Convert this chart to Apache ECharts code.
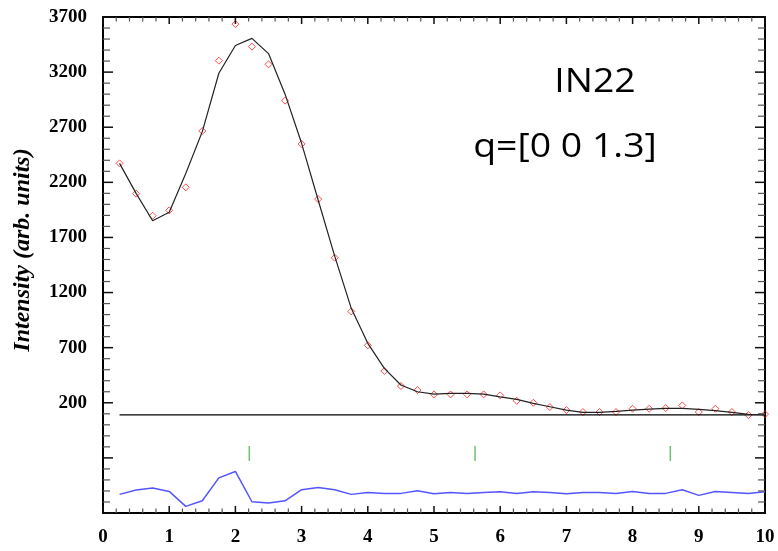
<!DOCTYPE html>
<html>
<head>
<meta charset="utf-8">
<script src="https://cdn.jsdelivr.net/npm/echarts@6/dist/echarts.min.js"></script>
<style>
html,body{margin:0;padding:0;background:#fff;}
#chart{width:778px;height:551px;}
</style>
</head>
<body>
<div id="chart"></div>
<script>
// ---- data ----
var xs = [0.25,0.5,0.75,1.0,1.25,1.5,1.75,2.0,2.25,2.5,2.75,3.0,3.25,3.5,3.75,4.0,4.25,4.5,4.75,5.0,
          5.25,5.5,5.75,6.0,6.25,6.5,6.75,7.0,7.25,7.5,7.75,8.0,8.25,8.5,8.75,9.0,9.25,9.5,9.75,10.0];
var observed = [2372,2097,1897,1946,2155,2666,3304,3636,3431,3271,2941,2548,2048,1516,1029,721,488,352,315,276,
                276,276,276,267,218,200,161,134,116,116,116,146,146,152,176,116,146,116,88,97];
var calculated = [2372,2100,1852,1928,2280,2660,3190,3442,3506,3368,3000,2554,2040,1531,1057,739,512,361,300,279,
                  285,285,279,254,231,194,164,134,113,113,122,134,143,149,149,140,128,113,95,92];
var difference = [-631,-592,-574,-604,-740,-689,-481,-423,-698,-710,-689,-589,-568,-589,-631,-613,-622,-622,-598,-626,
                  -613,-622,-613,-608,-622,-608,-613,-626,-613,-613,-622,-604,-622,-622,-589,-640,-604,-613,-622,-608];
var backgroundX = [0.25, 10];
var backgroundY = [90, 90];
var peakX = [2.21, 5.62, 8.57];
var peakY = [-260, -260, -260];
var xTicks = [0,1,2,3,4,5,6,7,8,9,10];
var yTickLabels = [200,700,1200,1700,2200,2700,3200,3700];
var yTitle = 'Intensity (arb. units)';
var label1 = 'IN22';
var label2 = 'q=[0 0 1.3]';

var X_MIN = 0, X_MAX = 10, X_STEP = 1, X_MINOR = 5;
var Y_MIN = -800, Y_MAX = 3700, Y_STEP = 500, Y_MINOR = 5;

function zip(a, b){ return a.map(function(v,i){ return [v, b[i]]; }); }

// axis tick marks (inside, on all four sides), derived from the axis ranges
var tickItems = [];
(function(){
  var i, j;
  for (i = X_MIN; i <= X_MAX + 1e-9; i += X_STEP) {
    tickItems.push([0, i, 1]);
    if (i < X_MAX) for (j = 1; j < X_MINOR; j++) tickItems.push([0, i + j * X_STEP / X_MINOR, 0]);
  }
  for (i = Y_MIN; i <= Y_MAX + 1e-9; i += Y_STEP) {
    tickItems.push([1, i, 1]);
    if (i < Y_MAX) for (j = 1; j < Y_MINOR; j++) tickItems.push([1, i + j * Y_STEP / Y_MINOR, 0]);
  }
})();

function renderTick(params, api){
  var kind = api.value(0), v = api.value(1), major = api.value(2) === 1;
  var cs = params.coordSys;
  var style = {stroke: major ? '#111' : '#555', lineWidth: major ? 1.5 : 1.2};
  var p, len;
  if (kind === 0) {
    p = api.coord([v, Y_MIN]);
    len = major ? 7 : 4.5;
    return {type:'group', children:[
      {type:'line', shape:{x1:p[0], y1:cs.y + cs.height, x2:p[0], y2:cs.y + cs.height - len}, style:style},
      {type:'line', shape:{x1:p[0], y1:cs.y, x2:p[0], y2:cs.y + len}, style:style}
    ]};
  }
  p = api.coord([X_MIN, v]);
  len = major ? 10 : 7;
  return {type:'group', children:[
    {type:'line', shape:{x1:cs.x, y1:p[1], x2:cs.x + len, y2:p[1]}, style:style},
    {type:'line', shape:{x1:cs.x + cs.width, y1:p[1], x2:cs.x + cs.width - len, y2:p[1]}, style:style}
  ]};
}

var chart = echarts.init(document.getElementById('chart'), null, {renderer:'canvas'});
var serif = '"Liberation Serif", "DejaVu Serif", serif';

function xAxisCfg(pos, showLabel){
  return {
    type:'value', position:pos, min:X_MIN, max:X_MAX, interval:X_STEP,
    axisLine:{show:true, onZero:false, lineStyle:{color:'#000', width:2}},
    axisTick:{show:false}, minorTick:{show:false},
    splitLine:{show:false},
    axisLabel:{show:showLabel, margin:15, color:'#000', fontFamily:serif, fontWeight:'bold', fontSize:19,
      formatter:function(v){ return xTicks.indexOf(v) >= 0 ? String(v) : ''; }}
  };
}
function yAxisCfg(pos, showLabel){
  return {
    type:'value', position:pos, min:Y_MIN, max:Y_MAX, interval:Y_STEP,
    axisLine:{show:true, onZero:false, lineStyle:{color:'#000', width:2}},
    axisTick:{show:false}, minorTick:{show:false},
    splitLine:{show:false},
    axisLabel:{show:showLabel, margin:16, color:'#000', fontFamily:serif, fontWeight:'bold', fontSize:19,
      formatter:function(v){ return yTickLabels.indexOf(v) >= 0 ? String(v) : ''; }}
  };
}

var option = {
  animation:false,
  grid:{left:103, right:13, top:17, bottom:38},
  xAxis:[xAxisCfg('bottom', true), xAxisCfg('top', false)],
  yAxis:[yAxisCfg('left', true), yAxisCfg('right', false)],
  series:[
    {type:'custom', data:tickItems, renderItem:renderTick, silent:true, z:10},
    {type:'line', data:zip(backgroundX, backgroundY), showSymbol:false, symbol:'none',
     lineStyle:{color:'#000', width:1.2}},
    {type:'line', data:zip(xs, calculated), showSymbol:false, symbol:'none',
     lineStyle:{color:'#222', width:1.2}},
    {type:'line', data:zip(xs, difference), showSymbol:false, symbol:'none',
     lineStyle:{color:'#5555ff', width:1.5}},
    {type:'scatter', data:zip(peakX, peakY), symbol:'rect', symbolSize:[1.5, 15],
     itemStyle:{color:'#4caf50'}},
    {type:'scatter', data:zip(xs, observed), symbol:'diamond', symbolSize:7,
     itemStyle:{color:'rgba(255,255,255,0)', borderColor:'#ff2020', borderWidth:1}}
  ],
  graphic:[
    {type:'text', x:23, y:250, rotation:Math.PI/2,
     style:{text:yTitle, x:0, y:0, align:'center', verticalAlign:'middle', fill:'#000',
            font:'italic bold 24px "Liberation Serif", serif'}},
    {type:'text', x:595, y:83, scaleX:1.17,
     style:{text:label1, x:0, y:0, align:'center', verticalAlign:'middle', fill:'#000',
            font:'32px "Open Sans", sans-serif'}},
    {type:'text', x:565, y:148, scaleX:1.17,
     style:{text:label2, x:0, y:0, align:'center', verticalAlign:'middle', fill:'#000',
            font:'32px "Open Sans", sans-serif'}}
  ]
};
chart.setOption(option);
</script>
</body>
</html>
